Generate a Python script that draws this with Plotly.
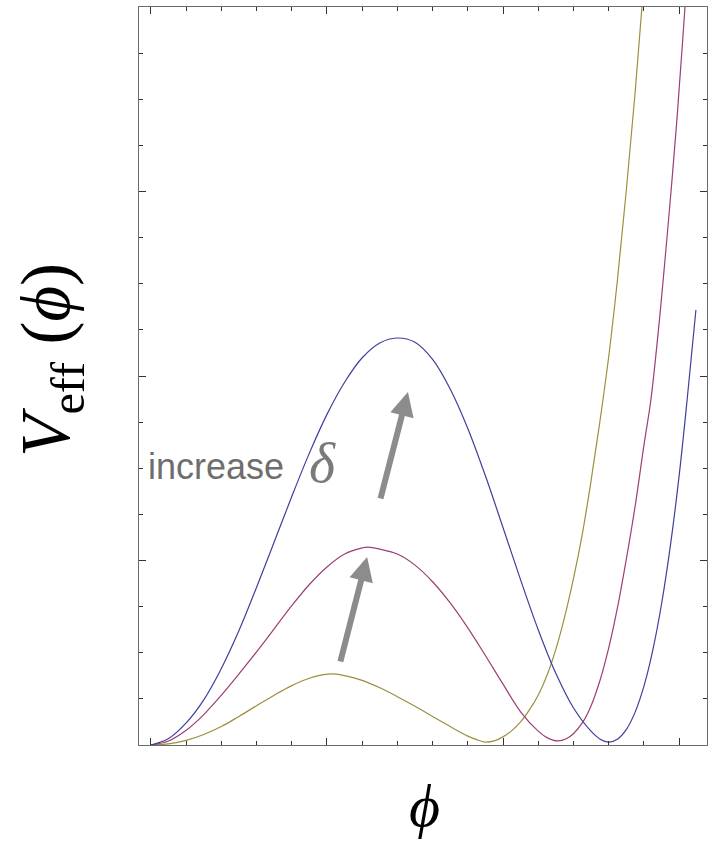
import plotly.graph_objects as go

# --- data (phi, V_eff) ---
phi_yellow = [0.0, 0.05, 0.1, 0.15, 0.2, 0.25, 0.3, 0.35, 0.4, 0.45, 0.509,
              0.55, 0.6, 0.65, 0.7, 0.75, 0.8, 0.85, 0.9, 0.925, 0.949,
              0.975, 1.0, 1.025, 1.05, 1.075, 1.1, 1.125, 1.15, 1.175, 1.2, 1.225,
              1.25, 1.275, 1.3, 1.325, 1.35, 1.375, 1.4, 1.425]
v_yellow = [0.0, 0.006, 0.025, 0.057, 0.10, 0.155, 0.213, 0.27, 0.322, 0.362, 0.385,
            0.376, 0.35, 0.31, 0.262, 0.21, 0.155, 0.10, 0.048, 0.029, 0.016,
            0.022, 0.044, 0.078, 0.125, 0.19, 0.27, 0.378, 0.518, 0.693, 0.90, 1.14,
            1.43, 1.75, 2.10, 2.52, 3.0, 3.53, 4.13, 4.75]

phi_magenta = [0.0, 0.05, 0.1, 0.15, 0.2, 0.25, 0.3, 0.35, 0.4, 0.45, 0.5, 0.55, 0.6, 0.616,
               0.65, 0.7, 0.75, 0.8, 0.85, 0.9, 0.95, 1.0, 1.05, 1.1, 1.125, 1.156,
               1.18, 1.2, 1.227, 1.25, 1.275, 1.3, 1.325, 1.35, 1.375, 1.4, 1.42, 1.44,
               1.455, 1.475, 1.494, 1.517, 1.54]
v_magenta = [0.0, 0.022, 0.08, 0.165, 0.27, 0.385, 0.505, 0.63, 0.755, 0.87, 0.965, 1.035, 1.068, 1.073,
             1.062, 1.035, 0.975, 0.885, 0.77, 0.635, 0.485, 0.33, 0.18, 0.075, 0.04, 0.022,
             0.034, 0.061, 0.125, 0.212, 0.347, 0.524, 0.743, 1.004, 1.29, 1.62, 1.87, 2.22,
             2.52, 2.95, 3.388, 4.0, 4.65]

phi_blue = [0.0, 0.05, 0.1, 0.15, 0.2, 0.25, 0.3, 0.35, 0.4, 0.45, 0.5, 0.55, 0.6, 0.65, 0.699,
            0.75, 0.8, 0.85, 0.9, 0.95, 1.0, 1.05, 1.1, 1.15, 1.2, 1.25, 1.275, 1.301,
            1.326, 1.351, 1.376, 1.401, 1.426, 1.451, 1.476, 1.501, 1.523, 1.548]
v_blue = [0.0, 0.035, 0.12, 0.245, 0.415, 0.62, 0.855, 1.10, 1.347, 1.582, 1.792, 1.966, 2.099, 2.179, 2.206,
          2.183, 2.090, 1.930, 1.716, 1.459, 1.179, 0.895, 0.625, 0.389, 0.202, 0.075, 0.033, 0.016,
          0.033, 0.086, 0.181, 0.323, 0.518, 0.771, 1.087, 1.471, 1.87, 2.358]

series = [
    ("yellow", phi_yellow, v_yellow, "#9d8f3e"),
    ("magenta", phi_magenta, v_magenta, "#9b3f74"),
    ("blue", phi_blue, v_blue, "#3f3f9d"),
]

# arrows: (tail, tip) in data units
arrow_tails = [(0.537, 0.444), (0.651, 1.328)]
arrow_tips = [(0.614, 1.019), (0.730, 1.913)]

x_major = [0, 0.5, 1.0, 1.5]
y_major = [0, 1, 2, 3, 4]

fig = go.Figure()
for name, xs, ys, col in series:
    fig.add_trace(go.Scatter(x=xs, y=ys, mode="lines", name=name,
                             line=dict(color=col, width=1.2, shape="spline", smoothing=1.0),
                             showlegend=False, hoverinfo="skip"))

for (tx, ty), (hx, hy) in zip(arrow_tails, arrow_tips):
    fig.add_annotation(x=hx, y=hy, ax=tx, ay=ty, xref="x", yref="y", axref="x", ayref="y",
                       showarrow=True, arrowhead=2, arrowwidth=6, arrowsize=0.8,
                       arrowcolor="#8c8c8c", text="")

fig.add_annotation(x=-0.013, y=1.512, xref="x", yref="y", text="increase", showarrow=False,
                   xanchor="left", yanchor="middle",
                   font=dict(family="Liberation Sans, Arial, sans-serif", size=36, color="#6e6e6e"))
fig.add_annotation(x=0.486, y=1.53, xref="x", yref="y", text="<i>δ</i>", showarrow=False,
                   xanchor="center", yanchor="middle",
                   font=dict(family="Liberation Serif, Times New Roman, serif", size=56, color="#7a7a7a"))

# axis titles
fig.add_annotation(x=-0.155, y=0.522, xref="paper", yref="paper",
                   text="<i>V</i><sub>eff</sub> (<i>ϕ</i>)", showarrow=False, textangle=-90,
                   xanchor="center", yanchor="middle",
                   font=dict(family="Liberation Serif, DejaVu Serif, serif", size=69, color="#000000"))
fig.add_annotation(x=0.5035, y=-0.082, xref="paper", yref="paper",
                   text="<i>ϕ</i>", showarrow=False, xanchor="center", yanchor="middle",
                   font=dict(family="Liberation Serif, DejaVu Serif, serif", size=60, color="#000000"))

axis_common = dict(showline=True, linecolor="#6a6a6a", linewidth=1.3, mirror="allticks",
                   ticks="inside", ticklen=7, tickwidth=1.1, tickcolor="#333333",
                   showticklabels=False, showgrid=False, zeroline=False)

fig.update_xaxes(range=[-0.034, 1.5795], tickmode="array", tickvals=x_major,
                 minor=dict(ticks="inside", ticklen=4, tickwidth=1, tickcolor="#333333",
                            dtick=0.1, tick0=0, showgrid=False),
                 **axis_common)
fig.update_yaxes(range=[0, 4], tickmode="array", tickvals=y_major,
                 minor=dict(ticks="inside", ticklen=4, tickwidth=1, tickcolor="#333333",
                            dtick=0.25, tick0=0, showgrid=False),
                 **axis_common)

fig.update_layout(width=724, height=841, margin=dict(l=139, r=17, t=7, b=96),
                  paper_bgcolor="white", plot_bgcolor="white")

fig.write_html("out.html")
